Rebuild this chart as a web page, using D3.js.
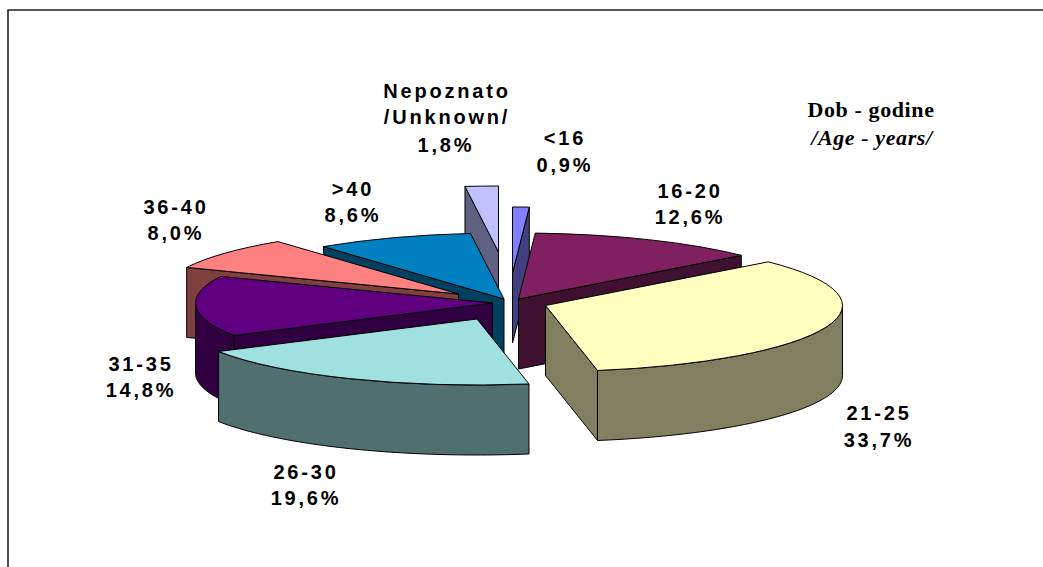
<!DOCTYPE html>
<html><head><meta charset="utf-8">
<script src="https://cdn.jsdelivr.net/npm/d3@7"></script>
<style>html,body{margin:0;padding:0;background:#fff}svg{display:block}
.lab{font-family:"Liberation Sans",Arial,sans-serif;font-weight:bold;font-size:20px;letter-spacing:2.8px;fill:#000;text-anchor:middle}
.ttl{font-family:"Liberation Serif","Times New Roman",serif;font-weight:bold;font-size:22px;letter-spacing:.6px;fill:#000;text-anchor:middle}
</style></head><body>
<script>
const categories = ["<16","16-20","21-25","26-30","31-35","36-40",">40","Nepoznato"];
const shares = [0.9,12.6,33.7,19.6,14.8,8.0,8.6,1.8];
const shareLabels = ["0,9%","12,6%","33,7%","19,6%","14,8%","8,0%","8,6%","1,8%"];
const topColors = ["#8080FF","#802060","#FFFFC0","#A0E0E0","#600080","#FF8080","#0080C0","#C0C0FF"];
const sideColors = ["#404080","#401030","#808060","#507070","#300040","#804040","#004060","#606080"];
const explodeX = [5,11,38,-30.5,-15,-49,-3.5,-9];
const explodeY = [-31,-5,1.5,15,-1,-10,-5,-52];
const paintOrder = [7,0,6,1,5,4,2,3];

const W=1043,H=567,R=297,ky=66/297,depth=70,cx=507.5,cy=304;
const svg=d3.select("body").append("svg").attr("width",W).attr("height",H);
svg.append("path").attr("d",`M8,${H}V10H${W}`).attr("fill","none").attr("stroke","#222").attr("stroke-width",1.6);

const arcs=d3.pie().sort(null).value(d=>d)(shares);
const arcGen=d3.arc().innerRadius(0).outerRadius(R);
const line=d3.line();
const pt=(a,t,r=R,z=0)=>[a[0]+r*Math.sin(t),a[1]-r*ky*Math.cos(t)+z];
const HALF=Math.PI/2;

paintOrder.forEach(i=>{
  const d=arcs[i];
  const apex=[cx+explodeX[i],cy+explodeY[i]];
  const g=svg.append("g").attr("stroke","#000").attr("stroke-width",1).attr("stroke-linejoin","round");
  const wall=t=>{
    const p0=apex,p1=pt(apex,t);
    g.append("path").attr("d",line([p0,p1,[p1[0],p1[1]+depth],[p0[0],p0[1]+depth]])+"Z").attr("fill",sideColors[i]);
  };
  if(Math.sin(d.startAngle)<0) wall(d.startAngle);
  if(Math.sin(d.endAngle)>0) wall(d.endAngle);
  const a0=Math.max(d.startAngle,HALF),a1=Math.min(d.endAngle,3*HALF);
  if(a1>a0){
    const ts=d3.range(0,61).map(k=>a0+(a1-a0)*k/60);
    const up=ts.map(t=>pt(apex,t));
    const dn=ts.slice().reverse().map(t=>pt(apex,t,R,depth));
    g.append("path").attr("d",line(up.concat(dn))+"Z").attr("fill",sideColors[i]);
  }
  g.append("path").attr("d",arcGen(d)).attr("transform",`translate(${apex[0]},${apex[1]}) scale(1,${ky})`)
   .attr("vector-effect","non-scaling-stroke").attr("fill",topColors[i]);
});

const labelX=[565,690,879,306,141,176,353];
const labelY=[145,197.5,420,478.5,370.5,213.5,195.5];
const gap=26.5;
labelX.forEach((x,i)=>{
  svg.append("text").attr("class","lab").attr("x",x).attr("y",labelY[i]).text(categories[i]);
  svg.append("text").attr("class","lab").attr("x",x).attr("y",labelY[i]+gap).text(shareLabels[i]);
});
svg.append("text").attr("class","lab").attr("x",447).attr("y",98).text(categories[7]);
svg.append("text").attr("class","lab").attr("x",447).attr("y",124).text("/Unknown/");
svg.append("text").attr("class","lab").attr("x",446).attr("y",151.5).text(shareLabels[7]);

svg.append("text").attr("class","ttl").attr("x",871).attr("y",117).text("Dob - godine");
svg.append("text").attr("class","ttl").attr("x",872).attr("y",144.5).attr("font-style","italic").text("/Age - years/");
</script></body></html>
